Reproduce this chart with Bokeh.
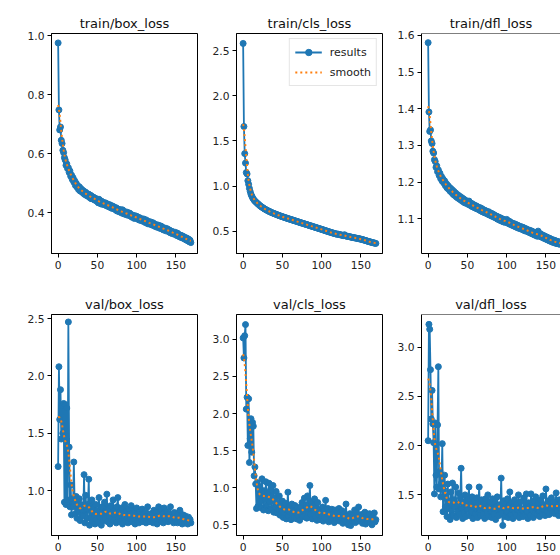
import numpy as np
from bokeh.plotting import figure
from bokeh.layouts import column, row
from bokeh.models import Range1d, FixedTicker, PrintfTickFormatter, Span
from bokeh.embed import file_html
from bokeh.resources import INLINE

EPOCHS = list(range(170))

TITLES = ["train/box_loss", "train/cls_loss", "train/dfl_loss",
          "val/box_loss", "val/cls_loss", "val/dfl_loss"]

TRAIN_BOX = [
    0.975, 0.748, 0.680, 0.690, 0.645, 0.634, 0.611, 0.603, 0.586, 0.578,
    0.560, 0.565, 0.549, 0.552, 0.536, 0.541, 0.523, 0.527, 0.512, 0.518,
    0.503, 0.508, 0.492, 0.499, 0.486, 0.491, 0.478, 0.487, 0.473, 0.481,
    0.470, 0.476, 0.465, 0.472, 0.461, 0.469, 0.458, 0.464, 0.455, 0.462,
    0.451, 0.459, 0.447, 0.455, 0.446, 0.452, 0.443, 0.449, 0.440, 0.446,
    0.441, 0.433, 0.445, 0.436, 0.430, 0.439, 0.428, 0.435, 0.431, 0.426,
    0.433, 0.424, 0.430, 0.421, 0.427, 0.419, 0.426, 0.416, 0.423, 0.414,
    0.421, 0.413, 0.417, 0.409, 0.416, 0.405, 0.412, 0.408, 0.402, 0.410,
    0.404, 0.398, 0.409, 0.400, 0.395, 0.403, 0.397, 0.392, 0.401, 0.394,
    0.390, 0.398, 0.388, 0.393, 0.384, 0.391, 0.386, 0.380, 0.389, 0.383,
    0.387, 0.378, 0.384, 0.375, 0.382, 0.373, 0.379, 0.376, 0.370, 0.378,
    0.372, 0.366, 0.375, 0.368, 0.362, 0.370, 0.365, 0.360, 0.368, 0.361,
    0.357, 0.365, 0.356, 0.360, 0.352, 0.359, 0.354, 0.349, 0.357, 0.350,
    0.346, 0.354, 0.345, 0.349, 0.341, 0.348, 0.343, 0.338, 0.346, 0.339,
    0.343, 0.334, 0.340, 0.331, 0.337, 0.329, 0.335, 0.331, 0.326, 0.333,
    0.327, 0.322, 0.330, 0.320, 0.325, 0.317, 0.323, 0.315, 0.321, 0.313,
    0.318, 0.310, 0.315, 0.307, 0.313, 0.304, 0.310, 0.301, 0.306, 0.298,
]

TRAIN_CLS = [
    2.580, 1.660, 1.360, 1.255, 1.150, 1.135, 1.060, 1.020, 0.975, 0.940,
    0.910, 0.890, 0.872, 0.858, 0.845, 0.835, 0.826, 0.818, 0.810, 0.802,
    0.795, 0.786, 0.780, 0.772, 0.768, 0.760, 0.756, 0.749, 0.745, 0.738,
    0.736, 0.729, 0.726, 0.720, 0.718, 0.712, 0.709, 0.705, 0.701, 0.698,
    0.695, 0.690, 0.688, 0.684, 0.681, 0.676, 0.675, 0.670, 0.668, 0.664,
    0.662, 0.658, 0.656, 0.652, 0.650, 0.646, 0.645, 0.640, 0.638, 0.636,
    0.632, 0.630, 0.628, 0.623, 0.622, 0.618, 0.616, 0.613, 0.610, 0.607,
    0.605, 0.601, 0.600, 0.595, 0.594, 0.590, 0.588, 0.585, 0.582, 0.580,
    0.576, 0.575, 0.571, 0.568, 0.566, 0.562, 0.561, 0.556, 0.555, 0.551,
    0.549, 0.546, 0.543, 0.541, 0.537, 0.536, 0.531, 0.530, 0.526, 0.524,
    0.521, 0.518, 0.516, 0.512, 0.510, 0.506, 0.505, 0.500, 0.498, 0.495,
    0.493, 0.489, 0.488, 0.484, 0.482, 0.478, 0.477, 0.473, 0.471, 0.468,
    0.470, 0.467, 0.465, 0.462, 0.461, 0.458, 0.457, 0.454, 0.452, 0.462,
    0.450, 0.448, 0.446, 0.444, 0.443, 0.440, 0.439, 0.436, 0.435, 0.432,
    0.431, 0.429, 0.428, 0.425, 0.424, 0.422, 0.421, 0.418, 0.417, 0.414,
    0.413, 0.410, 0.408, 0.405, 0.403, 0.400, 0.398, 0.394, 0.392, 0.389,
    0.387, 0.384, 0.382, 0.379, 0.377, 0.374, 0.372, 0.370, 0.368, 0.366,
]

TRAIN_DFL = [
    1.580, 1.391, 1.338, 1.342, 1.312, 1.305, 1.284, 1.279, 1.261, 1.256,
    1.240, 1.244, 1.228, 1.233, 1.218, 1.224, 1.209, 1.215, 1.202, 1.208,
    1.197, 1.203, 1.190, 1.196, 1.184, 1.191, 1.180, 1.186, 1.175, 1.182,
    1.171, 1.178, 1.166, 1.174, 1.163, 1.170, 1.159, 1.166, 1.156, 1.163,
    1.153, 1.160, 1.150, 1.157, 1.147, 1.154, 1.144, 1.151, 1.142, 1.148,
    1.145, 1.139, 1.148, 1.137, 1.143, 1.134, 1.141, 1.132, 1.138, 1.130,
    1.136, 1.128, 1.134, 1.126, 1.131, 1.124, 1.130, 1.121, 1.128, 1.119,
    1.125, 1.117, 1.123, 1.115, 1.121, 1.118, 1.112, 1.119, 1.110, 1.116,
    1.108, 1.114, 1.106, 1.112, 1.104, 1.109, 1.102, 1.107, 1.099, 1.105,
    1.097, 1.103, 1.095, 1.101, 1.093, 1.099, 1.091, 1.097, 1.090, 1.095,
    1.098, 1.088, 1.094, 1.086, 1.092, 1.084, 1.089, 1.082, 1.087, 1.080,
    1.086, 1.078, 1.084, 1.076, 1.082, 1.074, 1.080, 1.073, 1.078, 1.071,
    1.077, 1.069, 1.075, 1.067, 1.073, 1.066, 1.071, 1.064, 1.069, 1.062,
    1.068, 1.060, 1.066, 1.058, 1.064, 1.056, 1.062, 1.054, 1.060, 1.052,
    1.066, 1.057, 1.052, 1.059, 1.050, 1.056, 1.048, 1.054, 1.046, 1.052,
    1.044, 1.050, 1.042, 1.048, 1.040, 1.046, 1.038, 1.044, 1.036, 1.042,
    1.035, 1.041, 1.033, 1.039, 1.032, 1.038, 1.031, 1.036, 1.030, 1.034,
]

VAL_BOX = [
    1.21, 2.08, 1.62, 1.88, 1.45, 1.74, 1.50, 1.76, 0.90, 1.75,
    0.88, 1.72, 0.92, 2.47, 1.38, 0.86, 1.05, 0.79, 0.93, 0.86,
    1.25, 0.89, 0.80, 0.95, 0.76, 0.91, 0.82, 0.93, 0.74, 0.88,
    0.80, 0.83, 0.78, 1.14, 0.72, 0.96, 0.84, 0.76, 0.88, 1.10,
    0.70, 0.87, 0.76, 0.92, 0.73, 0.85, 0.78, 0.71, 0.88, 0.75,
    0.83, 0.72, 0.94, 0.77, 0.81, 0.70, 0.86, 0.79, 0.74, 0.90,
    0.76, 0.82, 0.97, 0.73, 0.84, 0.78, 0.71, 0.87, 0.75, 0.80,
    0.92, 0.74, 0.79, 0.83, 0.72, 0.86, 0.94, 0.76, 0.81, 0.73,
    0.78, 0.85, 0.71, 0.80, 0.76, 0.88, 0.74, 0.82, 0.77, 0.72,
    0.84, 0.79, 0.75, 0.87, 0.73, 0.80, 0.76, 0.83, 0.71, 0.79,
    0.85, 0.74, 0.78, 0.72, 0.82, 0.77, 0.75, 0.84, 0.73, 0.79,
    0.76, 0.81, 0.72, 0.78, 0.86, 0.74, 0.77, 0.73, 0.80, 0.75,
    0.79, 0.72, 0.83, 0.76, 0.74, 0.81, 0.71, 0.78, 0.86, 0.75,
    0.77, 0.84, 0.73, 0.79, 0.72, 0.85, 0.76, 0.74, 0.82, 0.78,
    0.73, 0.80, 0.75, 0.86, 0.74, 0.79, 0.77, 0.72, 0.81, 0.76,
    0.74, 0.78, 0.72, 0.80, 0.75, 0.83, 0.73, 0.77, 0.71, 0.79,
    0.75, 0.72, 0.78, 0.74, 0.76, 0.71, 0.77, 0.73, 0.75, 0.72,
]

VAL_CLS = [
    3.02, 2.75, 3.05, 3.20, 2.06, 2.22, 1.57, 2.20, 1.34, 1.66,
    1.93, 1.48, 1.88, 1.83, 1.16, 1.28, 1.05, 0.72, 1.07, 0.75,
    1.02, 0.81, 0.98, 0.73, 1.12, 0.88, 0.70, 0.96, 0.84, 1.08,
    0.76, 0.93, 0.69, 1.06, 0.81, 0.98, 0.72, 0.88, 1.03, 0.67,
    0.85, 0.74, 0.95, 0.66, 0.80, 0.71, 0.89, 0.63, 0.76, 0.68,
    0.82, 0.60, 0.73, 0.66, 0.79, 0.58, 0.70, 0.94, 0.62, 0.75,
    0.67, 0.57, 0.78, 0.64, 0.71, 0.60, 0.76, 0.66, 0.58, 0.73,
    0.63, 0.69, 0.56, 0.74, 0.65, 0.80, 0.61, 0.68, 0.86, 0.62,
    0.77, 0.59, 0.89, 0.66, 0.72, 1.03, 0.64, 0.81, 0.58, 0.75,
    0.69, 0.85, 0.61, 0.73, 0.56, 0.80, 0.64, 0.70, 0.57, 0.67,
    0.62, 0.74, 0.55, 0.69, 0.60, 0.83, 0.58, 0.66, 0.72, 0.54,
    0.63, 0.68, 0.57, 0.71, 0.59, 0.65, 0.53, 0.70, 0.61, 0.56,
    0.66, 0.58, 0.72, 0.55, 0.63, 0.60, 0.69, 0.52, 0.64, 0.57,
    0.61, 0.78, 0.54, 0.62, 0.50, 0.58, 0.65, 0.49, 0.60, 0.55,
    0.63, 0.57, 0.70, 0.53, 0.66, 0.59, 0.55, 0.74, 0.58, 0.62,
    0.56, 0.64, 0.52, 0.60, 0.57, 0.67, 0.51, 0.59, 0.54, 0.62,
    0.55, 0.65, 0.53, 0.58, 0.50, 0.61, 0.56, 0.66, 0.54, 0.57,
]

VAL_DFL = [
    2.05, 3.23, 3.18, 2.77, 2.27, 2.56, 2.22, 2.03, 1.51, 2.23,
    1.70, 1.58, 2.21, 2.80, 1.56, 1.74, 1.48, 1.62, 2.02, 1.33,
    1.55, 1.70, 1.38, 1.49, 1.28, 1.61, 1.36, 1.44, 1.25, 1.53,
    1.34, 1.62, 1.29, 1.45, 1.38, 1.58, 1.27, 1.41, 1.33, 1.52,
    1.30, 1.47, 1.77, 1.36, 1.26, 1.43, 1.32, 1.50, 1.28, 1.39,
    1.35, 1.45, 1.58, 1.29, 1.40, 1.33, 1.48, 1.26, 1.38, 1.44,
    1.31, 1.36, 1.47, 1.27, 1.42, 1.58, 1.34, 1.29, 1.45, 1.37,
    1.30, 1.41, 1.26, 1.46, 1.35, 1.32, 1.50, 1.28, 1.39, 1.43,
    1.33, 1.27, 1.46, 1.36, 1.30, 1.42, 1.25, 1.38, 1.48, 1.34,
    1.29, 1.40, 1.35, 1.67, 1.31, 1.19, 1.44, 1.37, 1.28, 1.41,
    1.33, 1.46, 1.27, 1.39, 1.53, 1.30, 1.36, 1.42, 1.26, 1.38,
    1.45, 1.32, 1.29, 1.41, 1.35, 1.50, 1.27, 1.37, 1.43, 1.31,
    1.34, 1.28, 1.47, 1.36, 1.30, 1.51, 1.33, 1.26, 1.42, 1.38,
    1.29, 1.51, 1.35, 1.40, 1.27, 1.44, 1.32, 1.48, 1.36, 1.30,
    1.42, 1.34, 1.28, 1.45, 1.37, 1.31, 1.49, 1.35, 1.40, 1.29,
    1.56, 1.38, 1.33, 1.44, 1.30, 1.41, 1.36, 1.47, 1.32, 1.39,
    1.43, 1.31, 1.37, 1.52, 1.34, 1.40, 1.29, 1.45, 1.36, 1.42,
]

SERIES = [TRAIN_BOX, TRAIN_CLS, TRAIN_DFL, VAL_BOX, VAL_CLS, VAL_DFL]

Y_LIMITS = [(0.261, 1.007), (0.254, 2.69), (1.005, 1.605),
            (0.61, 2.535), (0.356, 3.336), (1.088, 3.33)]
Y_TICKS = [[0.4, 0.6, 0.8, 1.0], [0.5, 1.0, 1.5, 2.0, 2.5],
           [1.1, 1.2, 1.3, 1.4, 1.5, 1.6], [1.0, 1.5, 2.0, 2.5],
           [0.5, 1.0, 1.5, 2.0, 2.5, 3.0], [1.5, 2.0, 2.5, 3.0]]
X_TICKS = [0, 50, 100, 150]
LEGEND_LABELS = ["results", "smooth"]


def gaussian_smooth(y, sigma=3.0):
    r = int(4 * sigma + 0.5)
    k = np.exp(-0.5 * (np.arange(-r, r + 1) / sigma) ** 2)
    k /= k.sum()
    yp = np.pad(np.asarray(y, float), r, mode="symmetric")
    return np.convolve(yp, k, mode="valid")


BLUE = "#1f77b4"
ORANGE = "#ff7f0e"
FONT = "DejaVu Sans"

# layout geometry (canvas sizes / borders), page has no margin
COL_W = [201, 185, 174]
COL_LEFT = [51, 35, 35]
COL_RIGHT = [4, 4, 0]
ROW_H = [284, 271]
ROW_TOP = [33, 30]
ROW_BOTTOM = [31, 20]
X_START = -8.45
X_END = [177.45, 177.45, 168.5]

figs = []
for i, (title, y) in enumerate(zip(TITLES, SERIES)):
    r, c = divmod(i, 3)
    p = figure(width=COL_W[c], height=ROW_H[r],
               x_range=Range1d(X_START, X_END[c]),
               y_range=Range1d(*Y_LIMITS[i]),
               output_backend="svg", toolbar_location=None,
               min_border_left=COL_LEFT[c], min_border_right=COL_RIGHT[c],
               min_border_top=ROW_TOP[r], min_border_bottom=ROW_BOTTOM[r])
    p.title.text = title
    p.title.align = "center"
    p.title.text_font = FONT
    p.title.text_font_size = "13px"
    p.title.text_font_style = "normal"
    p.title.text_color = "#111111"
    p.title.standoff = 6
    p.xgrid.visible = False
    p.ygrid.visible = False
    p.background_fill_color = "white"
    p.border_fill_color = "white"
    if c == 2:
        p.outline_line_color = None
        p.add_layout(Span(location=Y_LIMITS[i][1], dimension="width",
                          line_color="black", line_width=1))
    else:
        p.outline_line_color = "black"
        p.outline_line_width = 1
    for ax in (p.xaxis[0], p.yaxis[0]):
        ax.axis_line_color = "black"
        ax.major_tick_line_color = "black"
        ax.major_tick_out = 4
        ax.major_tick_in = 0
        ax.minor_tick_line_color = None
        ax.major_label_text_font = FONT
        ax.major_label_text_font_size = "10.7px"
        ax.major_label_text_color = "#222222"
        ax.major_label_standoff = 3
    p.xaxis[0].ticker = FixedTicker(ticks=X_TICKS)
    p.xaxis[0].formatter = PrintfTickFormatter(format="%d")
    p.yaxis[0].ticker = FixedTicker(ticks=Y_TICKS[i])
    p.yaxis[0].formatter = PrintfTickFormatter(format="%.1f")

    ys = gaussian_smooth(y)
    p.line(EPOCHS, y, line_color=BLUE, line_width=1.8, legend_label=LEGEND_LABELS[0])
    p.scatter(EPOCHS, y, size=6, fill_color=BLUE, line_color=BLUE,
              legend_label=LEGEND_LABELS[0])
    p.line(EPOCHS, list(ys), line_color=ORANGE, line_width=2, line_dash="2 3",
           legend_label=LEGEND_LABELS[1])
    if i == 1:
        lg = p.legend[0]
        lg.location = "top_right"
        lg.margin = 5
        lg.padding = 5
        lg.spacing = 4
        lg.glyph_width = 27
        lg.glyph_height = 16
        lg.label_standoff = 8
        lg.label_text_font = FONT
        lg.label_text_font_size = "11px"
        lg.label_text_color = "#222222"
        lg.border_line_color = "#cccccc"
        lg.border_line_width = 1
        lg.background_fill_alpha = 0.8
    else:
        p.legend[0].visible = False
    figs.append(p)

layout = column(row(*figs[:3], spacing=0), row(*figs[3:], spacing=0), spacing=0)

open("out.html", "w").write(file_html(layout, INLINE))
